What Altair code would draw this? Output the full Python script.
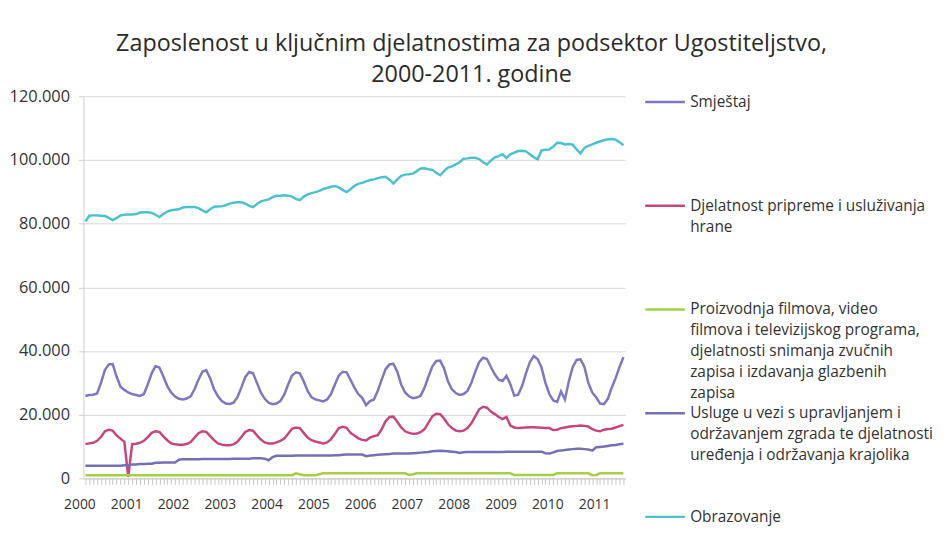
import altair as alt
import pandas as pd

# ---- categories (monthly, Jan 2000 - Jul 2011) ----
years = list(range(2000, 2012))
months = [f"{y}-{m:02d}" for y in years for m in range(1, 13)][:139]

# ---- series names (legend order) ----
names = [
    "Smještaj",
    "Djelatnost pripreme i usluživanja hrane",
    "Proizvodnja filmova, video filmova i televizijskog programa, djelatnosti snimanja zvučnih zapisa i izdavanja glazbenih zapisa",
    "Usluge u vezi s upravljanjem i održavanjem zgrada te djelatnosti uređenja i održavanja krajolika",
    "Obrazovanje",
]
label_lines = [
    ["Smještaj"],
    ["Djelatnost pripreme i usluživanja", "hrane"],
    ["Proizvodnja filmova, video", "filmova i televizijskog programa,",
     "djelatnosti snimanja zvučnih", "zapisa i izdavanja glazbenih", "zapisa"],
    ["Usluge u vezi s upravljanjem i", "održavanjem zgrada te djelatnosti",
     "uređenja i održavanja krajolika"],
    ["Obrazovanje"],
]
colors = ["#7d78bf", "#c8467e", "#a6cf45", "#7470b6", "#4cc3cc"]

# ---- series values ----
smjestaj = [
    25900, 26200, 26300, 26700, 30000, 34000, 35800, 35900, 32000, 28800, 27800, 27000,
    26500, 26200, 25900, 26500, 29500, 33000, 35300, 34800, 32000, 29000, 27000, 25700,
    25000, 24800, 25100, 25800, 28000, 31000, 33500, 34000, 31500, 28000, 25800, 24300,
    23500, 23400, 23800, 25500, 28500, 31800, 33400, 33000, 30000, 27000, 25000, 23800,
    23300, 23500, 24300, 26300, 29500, 32300, 33300, 33000, 30500, 27500, 25500, 24800,
    24500, 24200, 24800, 26500, 29500, 32300, 33500, 33300, 31000, 28500, 26500, 25300,
    23000, 24300, 24800, 27500, 31000, 34300, 35800, 36000, 33500, 29500, 27000, 25800,
    25200, 25400, 26000, 28500, 32000, 35200, 36900, 37000, 34500, 30500, 28000, 26800,
    26200, 26500, 27500, 30000, 33500, 36500, 37900, 37500, 35000, 32700, 31000, 30600,
    32200, 29600, 26000, 26300, 29000, 33000, 36500, 38400, 37500, 34800, 30000, 26500,
    24500, 24000, 27300, 24800, 30500, 35000, 37200, 37400, 35000, 30000, 27000, 25500,
    23500, 23300, 25000, 28500, 31500, 35000, 38100,
]
hrana = [
    10800, 11000, 11200, 11800, 13000, 14800, 15300, 15000, 13500, 12500, 11500, 500,
    10800, 10900, 11200, 11800, 13000, 14300, 14800, 14600, 13200, 12000, 11000, 10700,
    10600, 10600, 10800, 11400, 12800, 14200, 14800, 14600, 13300, 12000, 11000, 10600,
    10400, 10400, 10700, 11500, 13000, 14600, 15200, 15000, 13500, 12200, 11300, 11000,
    11000, 11300, 11800, 12500, 14000, 15600, 16000, 15800, 14300, 12800, 12000, 11600,
    11300, 11000, 11300, 12300, 14000, 15800, 16200, 15900, 14300, 13500, 12600, 12100,
    11900, 12800, 13300, 13600, 15500, 18000, 19300, 19400, 17800, 16000, 14800, 14300,
    14000, 14100, 14500, 15500, 17500, 19500, 20300, 20200, 18800, 17000, 15800, 15000,
    14800, 15000, 15800, 17300, 19500, 21700, 22500, 22200, 21000, 20200, 19300, 18600,
    19300, 16600, 16000, 15800, 15900, 16000, 16100, 16100, 16000, 15900, 15800, 15800,
    15200, 15300, 15800, 16000, 16200, 16400, 16500, 16600, 16500, 16300, 15500, 15000,
    14800, 15300, 15500, 15600, 16000, 16400, 16800,
]
filmovi = [
    1000, 1000, 1000, 1000, 1000, 1000, 1000, 1000, 1000, 1000, 1000, 1000,
    1000, 1000, 1000, 1000, 1000, 1000, 1000, 1000, 1000, 1000, 1000, 1000,
    1000, 1000, 1000, 1000, 1000, 1000, 1000, 1000, 1000, 1000, 1000, 1000,
    1000, 1000, 1000, 1000, 1000, 1000, 1000, 1000, 1000, 1000, 1000, 1000,
    1000, 1000, 1000, 1000, 1000, 1000, 1600, 1300, 1000, 1000, 1000, 1000,
    1300, 1600, 1600, 1600, 1600, 1600, 1600, 1600, 1600, 1600, 1600, 1600,
    1600, 1600, 1600, 1600, 1600, 1600, 1600, 1600, 1600, 1600, 1600, 1100,
    1300, 1600, 1600, 1600, 1600, 1600, 1600, 1600, 1600, 1600, 1600, 1600,
    1600, 1600, 1600, 1600, 1600, 1600, 1600, 1600, 1600, 1600, 1600, 1600,
    1600, 1600, 1100, 1100, 1100, 1100, 1100, 1100, 1100, 1100, 1100, 1100,
    1100, 1600, 1600, 1600, 1600, 1600, 1600, 1600, 1600, 1600, 1000, 1100,
    1600, 1600, 1600, 1600, 1600, 1600, 1600,
]
usluge = [
    4000, 4000, 4000, 4000, 4000, 4000, 4000, 4000, 4000, 4000, 4100, 4100,
    4400, 4400, 4500, 4500, 4600, 4600, 4900, 4900, 5000, 5000, 5000, 5000,
    5900, 6000, 6000, 6000, 6000, 6000, 6100, 6100, 6100, 6100, 6100, 6100,
    6100, 6100, 6200, 6200, 6200, 6200, 6200, 6300, 6300, 6300, 6200, 5700,
    6700, 7100, 7100, 7100, 7100, 7100, 7200, 7200, 7200, 7200, 7200, 7200,
    7200, 7200, 7200, 7200, 7300, 7300, 7400, 7500, 7500, 7500, 7500, 7500,
    7000, 7200, 7300, 7400, 7500, 7600, 7700, 7800, 7800, 7800, 7800, 7800,
    7900, 8000, 8100, 8200, 8300, 8500, 8600, 8700, 8600, 8500, 8400, 8300,
    8000, 8200, 8300, 8300, 8300, 8300, 8300, 8300, 8300, 8300, 8300, 8300,
    8400, 8400, 8400, 8400, 8400, 8400, 8400, 8400, 8400, 8400, 7900, 7800,
    8200, 8600, 8800, 8900, 9100, 9200, 9300, 9300, 9200, 9100, 8700, 9800,
    9900, 10000, 10200, 10400, 10500, 10700, 10900,
]
obrazovanje = [
    80700, 82500, 82600, 82600, 82500, 82400, 81800, 81100, 81800, 82600, 82800, 82900,
    82900, 83000, 83500, 83600, 83600, 83400, 82800, 82100, 83000, 83800, 84200, 84400,
    84500, 85100, 85200, 85200, 85200, 84900, 84200, 83600, 84500, 85300, 85400, 85500,
    85800, 86300, 86600, 86700, 86700, 86300, 85600, 85200, 86200, 87000, 87300, 87600,
    88300, 88800, 88800, 88900, 88800, 88500, 87800, 87400, 88500, 89200, 89600, 89900,
    90300, 90900, 91200, 91600, 91800, 91400, 90600, 89900, 90800, 91900, 92500, 92800,
    93300, 93700, 93900, 94300, 94600, 94700, 93800, 92600, 93900, 95000, 95400, 95500,
    95700, 96500, 97300, 97400, 97100, 96900, 96000, 95200, 96500, 97600, 98000, 98600,
    99300, 100400, 100500, 100700, 100700, 100300, 99300, 98600, 99800, 100800, 101200, 101800,
    100600, 101800, 102300, 102800, 102900, 102700, 101800, 100900, 100200, 103000, 103200, 103300,
    104200, 105400, 105300, 104900, 105000, 104800, 103300, 102100, 103800, 104400, 104900, 105400,
    105800, 106200, 106500, 106600, 106400, 105600, 104600,
]
series_values = [smjestaj, hrana, filmovi, usluge, obrazovanje]
y_ticks = [0, 20000, 40000, 60000, 80000, 100000, 120000]

title_lines = ["Zaposlenost u ključnim djelatnostima za podsektor Ugostiteljstvo,",
               "2000-2011. godine"]

# ---- table ----
rows = []
for name, vals in zip(names, series_values):
    for mo, v in zip(months, vals):
        rows.append({"month": mo, "series": name, "value": v})
df = pd.DataFrame(rows)

# legend label expression (multi-line labels)
def js_list(lines):
    return "[" + ", ".join("'" + s + "'" for s in lines) + "]"

expr = "datum.label"
for name, lines in reversed(list(zip(names, label_lines))):
    expr = f"datum.label == '{name}' ? {js_list(lines)} : ({expr})"

FONT = "Open Sans"
LEG_FS = 15.5

chart = alt.Chart(df).mark_line(strokeWidth=2.5).encode(
    x=alt.X(
        "month:O",
        sort=months,
        title=None,
        scale=alt.Scale(type="point", padding=0.5),
        axis=alt.Axis(
            labelExpr="slice(datum.value, 5) == '01' ? slice(datum.value, 0, 4) : ''",
            labelAngle=0,
            labelOverlap=False,
            labelFontSize=14,
            labelPadding=13,
            labelOffset=-6,
            labelColor="#333333",
            labelFont=FONT,
            tickSize=6,
            tickColor="#c4c4c4",
            domainColor="#c8c8c8",
            grid=False,
        ),
    ),
    y=alt.Y(
        "value:Q",
        title=None,
        scale=alt.Scale(domain=[0, 120000], nice=False),
        axis=alt.Axis(
            values=y_ticks,
            labelExpr="replace(format(datum.value, ','), ',', '.')",
            labelFontSize=16.5,
            labelPadding=9,
            labelColor="#333333",
            labelFont=FONT,
            tickSize=5,
            tickColor="#cfcfcf",
            domainColor="#cfcfcf",
            gridColor="#d9d9d9",
        ),
    ),
    color=alt.Color(
        "series:N",
        scale=alt.Scale(domain=names, range=colors),
        sort=names,
        legend=alt.Legend(
            title=None,
            orient="none",
            legendX=561,
            legendY=-2,
            padding=0,
            symbolType="M-4,0H4",
            symbolSize=100,
            symbolStrokeWidth=2.5,
            symbolOffset=17.25,
            labelOffset=17.5,
            labelFontSize=LEG_FS,
            labelFont=FONT,
            labelColor="#333333",
            labelLimit=400,
            labelBaseline="middle",
            labelExpr=expr,
            gridAlign="all",
            rowPadding=3.5,
        ),
    ),
).properties(
    width=546,
    height=385,
    title=alt.TitleParams(
        text=title_lines,
        font=FONT,
        fontSize=23.5,
        fontWeight="normal",
        color="#2b2b2b",
        lineHeight=31,
        anchor="middle",
        dx=118,
        offset=2,
    ),
    autosize=alt.AutoSizeParams(type="none"),
    padding={"left": 76, "top": 87, "right": 318, "bottom": 47},
).configure(
    style={"guide-label": {"lineHeight": 21}},
).configure_view(
    stroke=None,
)

chart.save("out.html", embed_options={"renderer": "svg", "actions": False})
